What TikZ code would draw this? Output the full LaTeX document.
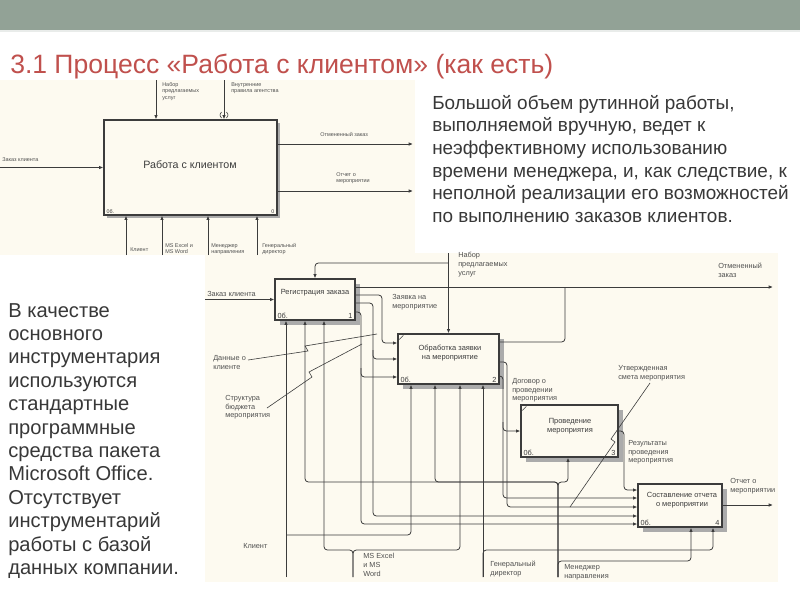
\documentclass[tikz,border=0pt]{standalone}
\usepackage{fontspec}
\setmainfont{Liberation Sans}
\usetikzlibrary{arrows.meta,shadows,calc}
\definecolor{band}{HTML}{92A296}
\definecolor{cream}{HTML}{FDFAF0}
\definecolor{titlec}{HTML}{C0504D}
\definecolor{bodyc}{HTML}{383838}
\definecolor{linec}{HTML}{3C3C3C}
\definecolor{lblc}{HTML}{505050}
\definecolor{shadc}{HTML}{ABABAB}
\begin{document}
\begin{tikzpicture}[x=0.75pt,y=-0.75pt,
  ln/.style={draw=linec, line width=0.6pt, rounded corners=2.5pt},
  arr/.style={ln, -{Latex[length=3.2pt,width=2.6pt]}},
  leader/.style={draw=linec, line width=0.45pt},
  box/.style={draw=linec, line width=1pt, fill=cream, inner sep=0pt,
     drop shadow={shadow xshift=3.6pt, shadow yshift=-3.6pt, fill=shadc, opacity=1}},
  boxa/.style={draw=linec, line width=1pt, fill=cream, inner sep=0pt,
     drop shadow={shadow xshift=2.4pt, shadow yshift=-2.4pt, fill=shadc, opacity=1}},
  lbl/.style={font=\fontsize{5.5}{6.6}\selectfont, text=lblc, align=left, inner sep=0pt, anchor=north west},
  lbla/.style={font=\fontsize{4.1}{4.9}\selectfont, text=lblc, align=left, inner sep=0pt, anchor=north west},
  ttl/.style={font=\fontsize{5.6}{6.4}\selectfont, text=linec, align=center, inner sep=0pt},
  num/.style={font=\fontsize{5.5}{6.5}\selectfont, text=linec, inner sep=0pt},
  numa/.style={font=\fontsize{4}{5}\selectfont, text=linec, inner sep=0pt},
  body/.style={text=bodyc, align=left, inner sep=0pt, anchor=north west},
]
\useasboundingbox (0,0) rectangle (800,600);
\fill[white] (0,0) rectangle (800,600);
\fill[band] (0,0) rectangle (800,30);
\draw[white!80!band, line width=1pt] (0,31) -- (800,31);

% title
\node[anchor=base west, font=\fontsize{19.9}{22}\selectfont, text=titlec, inner sep=0pt] (title) at (10,73) {3.1 Процесс «Работа с клиентом» (как есть)};

% texts
\node[body, font=\fontsize{14.2}{17}\selectfont] (txtr) at (432,95) {Большой объем рутинной работы,\\выполняемой вручную, ведет к\\неэффективному использованию\\времени менеджера, и, как следствие, к\\неполной реализации его возможностей\\по выполнению заказов клиентов.};
\node[body, font=\fontsize{15.1}{17.55}\selectfont] (txtl) at (8,303) {В качестве\\основного\\инструментария\\используются\\стандартные\\программные\\средства пакета\\Microsoft Office.\\Отсутствует\\инструментарий\\работы с базой\\данных компании.};

% ===== diagram 2 =====
\fill[cream] (205,253) rectangle (778,582);
\node[box, minimum width=60pt, minimum height=30.75pt] (b1) at (315,299.5) {};
\node[box, minimum width=75.75pt, minimum height=37.5pt] (b2) at (448.5,359) {};
\node[box, minimum width=72.75pt, minimum height=39pt] (b3) at (569.5,431) {};
\node[box, minimum width=63pt, minimum height=32.25pt] (b4) at (680,505.5) {};
\node[ttl] (t1) at (315,293) {Регистрация заказа};
\node[ttl] (t2) at (450,353) {Обработка заявки\\на мероприятие};
\node[ttl] (t3) at (570,426) {Проведение\\мероприятия};
\node[ttl] (t4) at (682,500) {Составление отчета\\о мероприятии};
\foreach \b/\n in {b1/1,b2/2,b3/3,b4/4}{
  \node[num, anchor=south west] at ($(\b.south west)+(3,-2)$) {0б.};
  \node[num, anchor=south east] at ($(\b.south east)+(-3,-2)$) {\n};
}
\draw[leader] ($(b2.north west)+(2,6)$) -- ($(b2.north west)+(6,2)$);
\draw[leader] ($(b3.north west)+(2,6)$) -- ($(b3.north west)+(6,2)$);

% inputs / controls
\coordinate (zin) at (205,299.5);
\draw[arr] (zin) -- (b1.west);
\coordinate (nab) at (448.5,253);
\draw[arr] (nab) -- (b2.north);
\draw[arr] (448.5,263) -| (b1.north);
% outputs
\coordinate (otm) at (773,287);
\draw[arr] (b1.east |- 0,287) -- (otm);
\draw[ln] (b2.east |- 0,342) -| (565,287);
\draw[arr] (b1.east |- 0,295) -- (382,295) |- (b2.west |- 0,343);
\draw[arr] (b1.east |- 0,303) -| (373,516) -- (b4.west |- 0,516);
\draw[arr] (373,350) |- (b2.west |- 0,359);
\draw[arr] (b1.east |- 0,312) -| (361,524) -- (b4.west |- 0,524);
\draw[arr] (361,368) |- (b2.west |- 0,377);
\draw[arr] (b2.east |- 0,376) -| (503,498) -- (b4.west |- 0,498);
\draw[arr] (503,422) |- (b3.west |- 0,431);
\draw[arr] (b2.east |- 0,362) -| (507,507) -- (b4.west |- 0,507);
\draw[arr] (b3.east |- 0,431) -| (624,490) -- (b4.west |- 0,490);
\coordinate (otch) at (773,505);
\draw[arr] (b4.east |- 0,505) -- (otch);
% mechanisms
\coordinate (kl) at (286,577);
\draw[arr] (kl) -- (kl |- b1.south);
\draw[arr] (286,535) -| (b2.south -| 411,0);
\coordinate (ms) at (353,577);
\draw[arr] (ms) |- (324,550) -- (b1.south -| 324,0);
\draw[arr] (ms) |- (460,550) -- (b2.south -| 460,0);
\coordinate (mn) at (558,577);
\draw[arr] (mn) |- (305,482) -- (b1.south -| 305,0);
\draw[arr] (mn) |- (435,482) -- (b2.south -| 435,0);
\draw[arr] (mn) |- (568,482) -- (b3.south -| 568,0);
\draw[arr] (mn) |- (691,561) -- (b4.south -| 691,0);
\coordinate (gd) at (483,577);
\draw[arr] (gd) -- (gd |- b2.south);
\draw[arr] (gd) |- (713,550) -- (b4.south -| 713,0);
% leaders
\draw[leader] (248,360) -- (308,351) -- (305,346) -- (377,334);
\draw[leader] (267,408) -- (312,377) -- (309,372) -- (362,344);
\draw[leader] (650,383) -- (611,439) -- (615,442) -- (570,507);
% labels
\node[lbl] (l1) at (207,291) {Заказ клиента};
\node[lbl] (l2) at (458,252) {Набор\\предлагаемых\\услуг};
\node[lbl] (l3) at (718,263) {Отмененный\\заказ};
\node[lbl] (l4) at (392,294) {Заявка на\\мероприятие};
\node[lbl] (l5) at (213,355) {Данные о\\клиенте};
\node[lbl] (l6) at (225,395) {Структура\\бюджета\\мероприятия};
\node[lbl] (l7) at (512,378) {Договор о\\проведении\\мероприятия};
\node[lbl] (l8) at (618,365) {Утвержденная\\смета мероприятия};
\node[lbl] (l9) at (628,440) {Результаты\\проведения\\мероприятия};
\node[lbl] (l10) at (730,478) {Отчет о\\мероприятии};
\node[lbl] (l11) at (243,543) {Клиент};
\node[lbl] (l12) at (363,553) {MS Excel\\и MS\\Word};
\node[lbl] (l13) at (490,561) {Генеральный\\директор};
\node[lbl] (l14) at (564,564) {Менеджер\\направления};

% ===== diagram 1 =====
\fill[cream] (0,80) rectangle (415,255);
\node[boxa, minimum width=129.75pt, minimum height=71.25pt] (b0) at (190.5,167.5) {};
\node[font=\fontsize{8}{9}\selectfont, text=linec, inner sep=0pt] (t0) at (190,165) {Работа с клиентом};
\node[numa, anchor=south west] at ($(b0.south west)+(3,-2)$) {0б.};
\node[numa, anchor=south east] at ($(b0.south east)+(-3,-2)$) {0};
\coordinate (a0) at (0,167.5);
\draw[arr] (a0) -- (b0.west);
\coordinate (a1) at (156,80);
\draw[arr] (a1) -- (a1 |- b0.north);
\coordinate (a2) at (224,80);
\draw[arr] (a2) -- (a2 |- b0.north);
\draw[leader] (221.5,112) .. controls (219.5,115) .. (221.5,118);
\draw[leader] (226.5,112) .. controls (228.5,115) .. (226.5,118);
\coordinate (a3) at (413,144);
\draw[arr] (b0.east |- a3) -- (a3);
\coordinate (a4) at (413,191);
\draw[arr] (b0.east |- a4) -- (a4);
\foreach \x/\nm in {126/m1,162/m2,208/m3,257/m4}{
  \coordinate (\nm) at (\x,255);
  \draw[arr] (\nm) -- (\nm |- b0.south);
}
\node[lbla] at (162,82) {Набор\\предлагаемых\\услуг};
\node[lbla] at (231,82) {Внутренние\\правила агентства};
\node[lbla] at (2,157) {Заказ клиента};
\node[lbla] at (320,132) {Отмененный заказ};
\node[lbla] at (336,172) {Отчет о\\мероприятии};
\node[lbla] at (130,247) {Клиент};
\node[lbla] at (165,243) {MS Excel и\\MS Word};
\node[lbla] at (211,243) {Менеджер\\направления};
\node[lbla] at (262,243) {Генеральный\\директор};
\end{tikzpicture}
\end{document}
